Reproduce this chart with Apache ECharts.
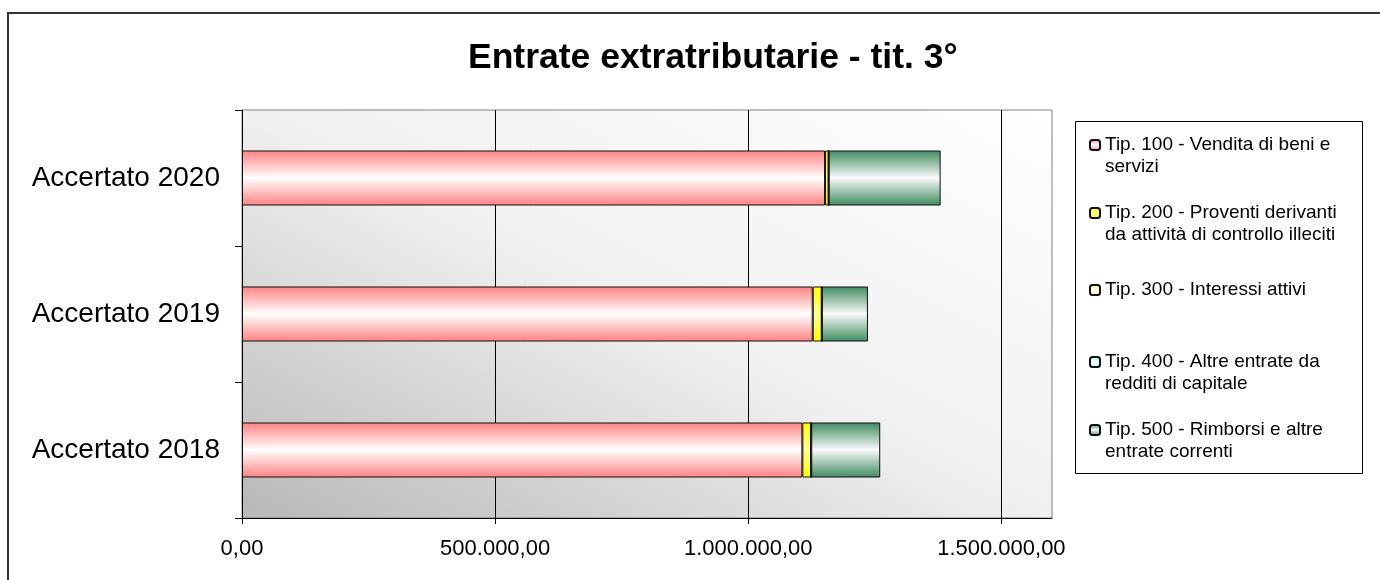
<!DOCTYPE html>
<html>
<head>
<meta charset="utf-8">
<script src="https://cdn.jsdelivr.net/npm/echarts@6/dist/echarts.min.js"></script>
<style>
  html, body { margin: 0; padding: 0; background: #fff; }
  #chart { width: 1380px; height: 580px; }
</style>
</head>
<body>
<div id="chart"></div>
<script>
const categories = ["Accertato 2018", "Accertato 2019", "Accertato 2020"];
const seriesNames = [
  "Tip. 100 - Vendita di beni e\nservizi",
  "Tip. 200 - Proventi derivanti\nda attività di controllo illeciti",
  "Tip. 300 - Interessi attivi",
  "Tip. 400 - Altre entrate da\nredditi di capitale",
  "Tip. 500 - Rimborsi e altre\nentrate correnti"
];
const tip100 = [1106900, 1127400, 1151700];
const tip200 = [17200, 17800, 7000];
const tip300 = [300, 300, 300];
const tip400 = [0, 0, 0];
const tip500 = [136300, 90900, 221000];
const xTicks = [0, 500000, 1000000, 1500000];

const font = "Liberation Sans";

// Italian number format: 1.500.000,00
function fmt(v) {
  const parts = v.toFixed(2).split(".");
  const intPart = parts[0].replace(/\B(?=(\d{3})+(?!\d))/g, ".");
  return intPart + "," + parts[1];
}

function band(edge, mid) {
  return new echarts.graphic.LinearGradient(0, 0, 0, 1, [
    { offset: 0, color: edge },
    { offset: 0.5, color: mid },
    { offset: 1, color: edge }
  ]);
}

const fills = [
  band("#FF8282", "#FFFFFF"),
  band("#FFFF00", "#FFFF99"),
  band("#FFFFA8", "#FFFFF0"),
  band("#B0F0F0", "#F4FFFF"),
  band("#3D8B5E", "#FAFAFA")
];
const values = [tip100, tip200, tip300, tip400, tip500];

const chart = echarts.init(document.getElementById("chart"));

// one legend per entry so they can sit like the original list;
// a leading blank line puts the marker beside the first text line
const legendCenters = [145, 213, 290, 362, 430];
const legends = seriesNames.map((name, i) => {
  const twoLines = name.indexOf("\n") >= 0;
  return {
    orient: "vertical",
    left: 1089,
    top: legendCenters[i] - (twoLines ? 33 : 11),
    padding: 0,
    itemWidth: 10,
    itemHeight: 10,
    selectedMode: false,
    data: [name],
    formatter: (n) => (n.indexOf("\n") >= 0 ? " \n" + n : n),
    textStyle: {
      fontFamily: font,
      fontSize: 19,
      lineHeight: 22,
      color: "#000"
    }
  };
});

// plot background: dark in the lower left corner, white towards the upper right
const L = 242, T = 110, R = 1052, B = 518;
const bg = new echarts.graphic.LinearGradient(L, B, L + 328, B - 651, [
  { offset: 0, color: "#B8B8B8" },
  { offset: 0.5, color: "#F0F0F0" },
  { offset: 1, color: "#FFFFFF" }
], true);

const option = {
  backgroundColor: "#fff",
  animation: false,
  title: {
    text: "Entrate extratributarie - tit. 3°",
    left: 463,
    top: 35,
    textStyle: { fontFamily: font, fontSize: 35.5, fontWeight: "bold", color: "#000" }
  },
  legend: legends,
  grid: {
    left: L,
    right: 1380 - R,
    top: T,
    bottom: 580 - B,
    show: true,
    borderColor: "#808080",
    borderWidth: 1,
    backgroundColor: bg
  },
  xAxis: {
    type: "value",
    min: 0,
    max: 1600000,
    interval: 500000,
    axisLine: { show: true, lineStyle: { color: "#000", width: 1 } },
    axisTick: { show: true, length: 6, lineStyle: { color: "#000" }, customValues: xTicks },
    axisLabel: {
      customValues: xTicks,
      margin: 20,
      fontFamily: font,
      fontSize: 22,
      color: "#000",
      formatter: (v) => (v % 500000 === 0 ? fmt(v) : "")
    },
    splitLine: {
      show: true,
      lineStyle: { color: ["#000", "#000", "#000", "#000", "#808080"], width: 1 }
    }
  },
  yAxis: {
    type: "category",
    data: categories,
    axisLine: { show: true, lineStyle: { color: "#000", width: 1 } },
    axisTick: { show: true, length: 7, lineStyle: { color: "#000" } },
    axisLabel: { margin: 22, fontFamily: font, fontSize: 28, color: "#000" },
    splitLine: { show: false }
  },
  series: seriesNames.map((name, i) => ({
    name: name,
    type: "bar",
    stack: "tot",
    barWidth: 55,
    data: values[i],
    itemStyle: { color: fills[i], borderColor: "#111", borderWidth: 1 }
  })),
  graphic: [
    {
      type: "rect",
      shape: { x: 8, y: 13, width: 1400, height: 600 },
      style: { fill: null, stroke: "#333", lineWidth: 2 },
      silent: true
    },
    {
      type: "rect",
      shape: { x: 1075.5, y: 121.5, width: 287, height: 352 },
      style: { fill: null, stroke: "#000", lineWidth: 1 },
      silent: true,
      z: -1
    }
  ]
};

chart.setOption(option);

window.addEventListener("resize", () => chart.resize());
</script>
</body>
</html>
